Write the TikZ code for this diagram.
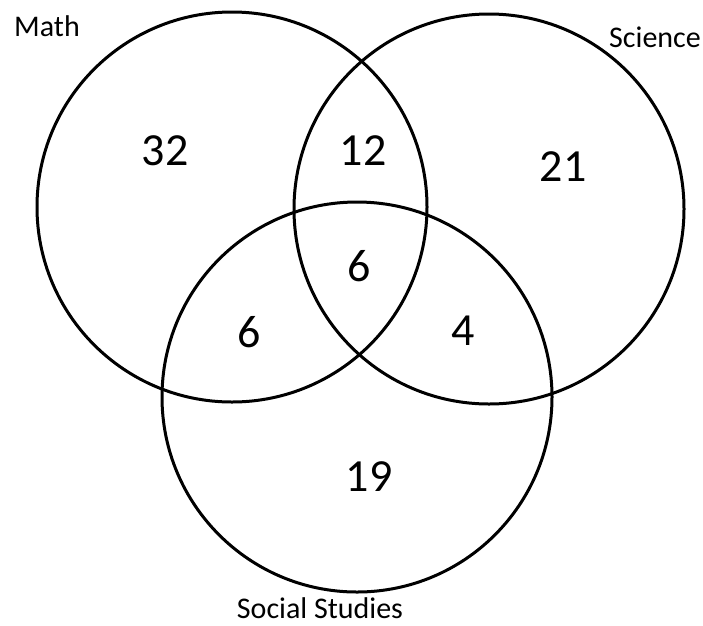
\documentclass[tikz,border=0pt]{standalone}
\usepackage{fontspec}
\setmainfont{Carlito}
\begin{document}
\begin{tikzpicture}[
  x=1pt, y=-1pt,
  setcirc/.style={circle, draw=black, line width=3pt, inner sep=0pt, minimum size=390pt},
  title/.style={font=\fontsize{30}{35}\selectfont, inner sep=0pt},
  count/.style={font=\fontsize{46}{50}\selectfont, inner sep=0pt}
]
  \useasboundingbox (0,0) rectangle (703,625);

  % --- CONJUNTOS ---
  \node[setcirc] (math) at (232, 207) {};
  \node[setcirc] (sci)  at (489, 209) {};
  \node[setcirc] (soc)  at (357, 397) {};

  % --- NOMBRES ---
  \node[title] (lmath) at (47, 26)  {Math};
  \node[title] (lsci)  at (655, 37) {Science};
  \node[title] (lsoc)  at (320, 608) {Social Studies};

  % --- CANTIDADES ---
  \node[count] (n1) at (165, 151) {32};   % solo Math
  \node[count] (n2) at (363, 151) {12};   % Math y Science
  \node[count] (n3) at (563, 167) {21};   % solo Science
  \node[count] (n4) at (359, 266) {6};    % los tres
  \node[count] (n5) at (249, 332) {6};    % Math y Social Studies
  \node[count] (n6) at (463, 331) {4};    % Science y Social Studies
  \node[count] (n7) at (369, 477) {19};   % solo Social Studies
\end{tikzpicture}
\end{document}
